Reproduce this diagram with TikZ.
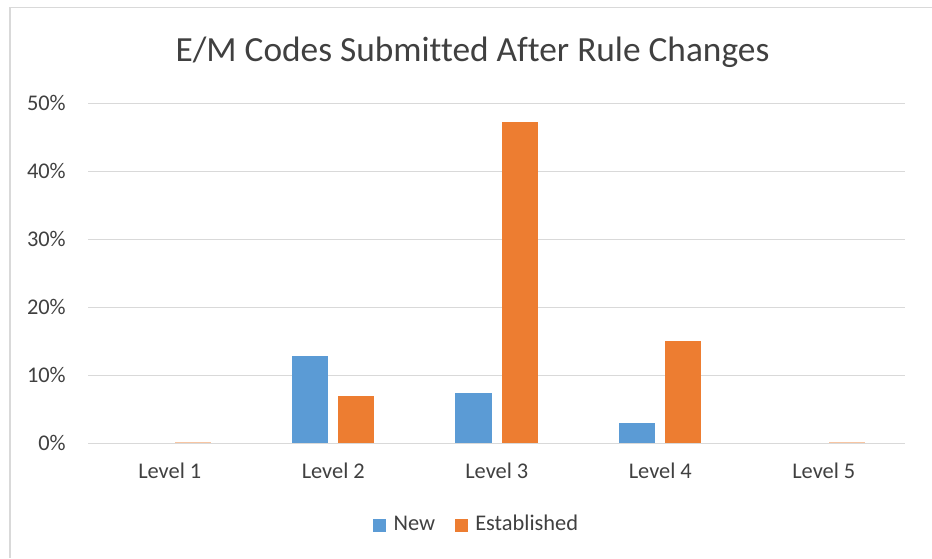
\documentclass[tikz,border=0pt]{standalone}
\usepackage{fontspec}
\setmainfont{Carlito}[Ligatures=NoCommon]

\definecolor{newblue}{HTML}{5B9BD5}
\definecolor{estorange}{HTML}{ED7D31}
\definecolor{gridgray}{HTML}{D9D9D9}
\definecolor{labelgray}{HTML}{404040}

\tikzset{
  ticklabel/.style={text=labelgray,inner sep=0pt,font=\fontsize{16.8}{20}\selectfont},
  charttitle/.style={text=labelgray,inner sep=0pt,font=\fontsize{26.5}{31}\selectfont},
  gridline/.style={draw=gridgray,line width=1.2pt},
  newbar/.style={fill=newblue},
  estbar/.style={fill=estorange}
}

\begin{document}
\begin{tikzpicture}[x=0.75pt,y=-0.75pt]
      \useasboundingbox (0,0) rectangle (932,558);
      \draw[gridgray,line width=1.4pt] (932,7.5) -- (10,7.5) -- (10,558);
      \draw
        (472.5,61.7) node[charttitle,anchor=base] (title){E/M Codes Submitted After Rule Changes};
      \begin{scope}[gridline]
        \draw (88,103.3) -- (905.3,103.3);
        \draw (88,171.3) -- (905.3,171.3);
        \draw (88,239.3) -- (905.3,239.3);
        \draw (88,307.3) -- (905.3,307.3);
        \draw (88,375.3) -- (905.3,375.3);
        \draw (88,443.3) -- (905.3,443.3);
      \end{scope}
      \draw
        (66,110.7) node[ticklabel,anchor=base east] (y50){50\%}
        (66,178.7) node[ticklabel,anchor=base east] (y40){40\%}
        (66,246.7) node[ticklabel,anchor=base east] (y30){30\%}
        (66,314.7) node[ticklabel,anchor=base east] (y20){20\%}
        (66,382.7) node[ticklabel,anchor=base east] (y10){10\%}
        (66,450.7) node[ticklabel,anchor=base east] (y0){0\%};
      % bars: New, Established
      \fill[estorange!45] (174.5,443.3) rectangle (210.8,441.6);
      \fill[newbar] (291.7,443.3) rectangle (328.0,355.7);
      \fill[estbar] (338.0,443.3) rectangle (374.3,395.7);
      \fill[newbar] (455.2,443.3) rectangle (491.5,393.3);
      \fill[estbar] (501.5,443.3) rectangle (537.8,121.7);
      \fill[newbar] (618.7,443.3) rectangle (655.0,423.3);
      \fill[estbar] (665.0,443.3) rectangle (701.3,341.0);
      \fill[estorange!45] (828.5,443.3) rectangle (864.8,441.6);
      \draw
        (169.8,478.5) node[ticklabel,anchor=base] (lev1){Level 1}
        (333.3,478.5) node[ticklabel,anchor=base] (lev2){Level 2}
        (496.8,478.5) node[ticklabel,anchor=base] (lev3){Level 3}
        (660.3,478.5) node[ticklabel,anchor=base] (lev4){Level 4}
        (823.8,478.5) node[ticklabel,anchor=base] (lev5){Level 5};
      % legend
      \fill[newbar] (373.3,519.3) rectangle (386,531.6);
      \fill[estbar] (455,519.3) rectangle (467.7,531.6);
      \draw
        (393.3,530.7) node[ticklabel,anchor=base west] (keynew){New}
        (475,530.7) node[ticklabel,anchor=base west] (keyest){Established};
    \end{tikzpicture}
\end{document}
